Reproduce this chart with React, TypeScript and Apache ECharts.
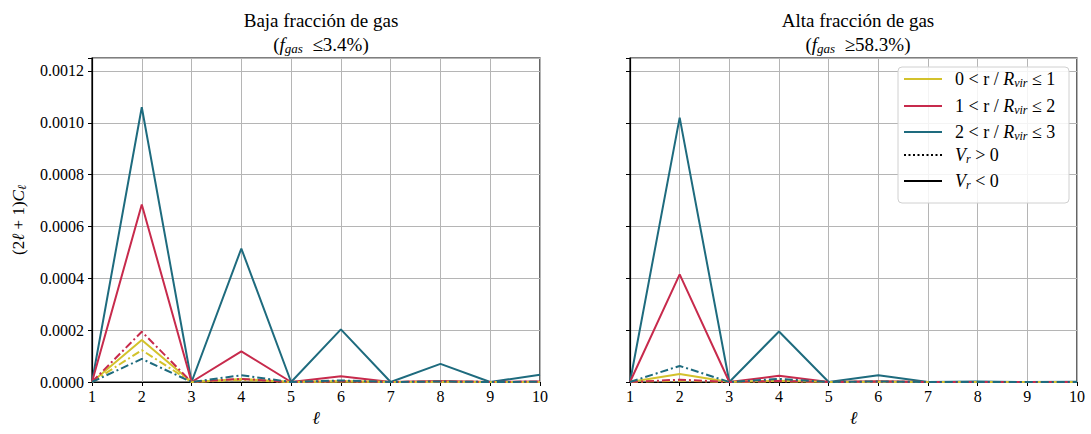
import React, { useEffect, useRef } from "react";
import * as echarts from "echarts";

// multipole order ℓ
const ell = [1, 2, 3, 4, 5, 6, 7, 8, 9, 10];

// Low gas fraction panel: (2ℓ+1)C_ℓ per radial shell; "In" = V_r < 0 (solid), "Out" = V_r > 0 (dash-dot)
const lowIn1 = [0, 0.000162, 0, 0.000012, 0, 0.000003, 0, 0.000001, 0, 0];
const lowIn2 = [0, 0.000685, 0, 0.000118, 0, 0.000022, 0, 0.000004, 0, 0.000002];
const lowIn3 = [0, 0.00106, 0, 0.000515, 0, 0.000203, 0, 0.00007, 0, 0.000028];
const lowOut1 = [0, 0.000123, 0, 0.000008, 0, 0.000002, 0, 0, 0, 0];
const lowOut2 = [0, 0.000194, 0, 0.000012, 0, 0.000003, 0, 0.000002, 0, 0.000001];
const lowOut3 = [0, 0.000089, 0, 0.000026, 0, 0.000006, 0, 0.000002, 0, 0.000001];

// High gas fraction panel
const highIn1 = [0, 0.000031, 0, 0.000005, 0, 0.000001, 0, 0, 0, 0];
const highIn2 = [0, 0.000415, 0, 0.000024, 0, 0.000003, 0, 0, 0, 0];
const highIn3 = [0, 0.00102, 0, 0.000195, 0, 0.000026, 0, 0.000002, 0, 0.000001];
const highOut1 = [0, 0.000005, 0, 0.000003, 0, 0, 0, 0, 0, 0];
const highOut2 = [0, 0.000009, 0, 0.000004, 0, 0.000001, 0, 0, 0, 0];
const highOut3 = [0, 0.000062, 0, 0.000012, 0, 0.000002, 0, 0, 0, 0];

const yTicks = [0, 0.0002, 0.0004, 0.0006, 0.0008, 0.001, 0.0012];
const shellLabels = ["0", "1", "2", "3"];

const YELLOW = "#d3c22c";
const RED = "#c72a4c";
const BLUE = "#1e6b7e";
const FONT = "'Liberation Serif', 'DejaVu Serif', serif";
const DASHDOT = [8, 3, 2, 3];

const pairs = (vals: number[]) => ell.map((l, i) => [l, vals[i]]);

function lineSeries(name: string, vals: number[], color: string, dashed: boolean, idx: number) {
  return {
    type: "line",
    name,
    xAxisIndex: idx,
    yAxisIndex: idx,
    data: pairs(vals),
    showSymbol: false,
    symbol: "none",
    lineStyle: { color, width: 2, type: dashed ? DASHDOT : "solid" },
    z: dashed ? 3 : 2,
  };
}

function richSet(size: number, subSize: number, subPad: number) {
  return {
    n: { fontFamily: FONT, fontSize: size, fontWeight: "normal", color: "#000" },
    i: { fontFamily: FONT, fontSize: size, fontStyle: "italic", fontWeight: "normal", color: "#000" },
    s: {
      fontFamily: FONT,
      fontSize: subSize,
      fontStyle: "italic",
      fontWeight: "normal",
      color: "#000",
      padding: [subPad, 0, 0, 0],
    },
  };
}

export default function App() {
  const ref = useRef<HTMLDivElement>(null);

  useEffect(() => {
    if (!ref.current) return;
    const chart = echarts.init(ref.current, null, { renderer: "svg" });

    const grids = [
      { left: 92, top: 58, width: 448, height: 324 },
      { left: 630, top: 58, width: 447, height: 324 },
    ].map((g) => ({ ...g, show: true, borderColor: "#000", borderWidth: 1.2, backgroundColor: "transparent" }));

    const xAxes = [0, 1].map((i) => ({
      type: "value",
      gridIndex: i,
      min: 1,
      max: 10,
      interval: 1,
      name: "ℓ",
      nameLocation: "middle",
      nameGap: 25,
      nameTextStyle: { fontFamily: FONT, fontSize: 18, fontStyle: "italic", color: "#000" },
      axisLine: { show: true, onZero: false, lineStyle: { color: "#000", width: 1.2 } },
      axisTick: { show: true, inside: false, length: 4, lineStyle: { color: "#000" } },
      axisLabel: { fontFamily: FONT, fontSize: 16, color: "#000", margin: 6 },
      splitLine: { show: true, lineStyle: { color: "#b5b5b5", width: 1 } },
    }));

    const yAxes = [0, 1].map((i) => ({
      type: "value",
      gridIndex: i,
      min: 0,
      max: 0.00125,
      interval: 0.0002,
      name: i === 0 ? "{n|(2}{i|ℓ}{n| + 1)}{i|C}{s|ℓ}" : "",
      nameLocation: "middle",
      nameGap: 64,
      nameRotate: 90,
      nameTextStyle: { rich: richSet(17, 12, 7) },
      axisLine: { show: true, lineStyle: { color: "#000", width: 1.2 } },
      axisTick: {
        show: true,
        inside: false,
        length: 4,
        lineStyle: { color: "#000" },
        interval: (_: number, v: number) => yTicks.some((t) => Math.abs(t - v) < 1e-9),
      },
      axisLabel: {
        show: i === 0,
        fontFamily: FONT,
        fontSize: 16,
        color: "#000",
        margin: 8,
        formatter: (v: number) => (yTicks.some((t) => Math.abs(t - v) < 1e-9) ? v.toFixed(4) : ""),
      },
      splitLine: { show: true, lineStyle: { color: "#b5b5b5", width: 1 } },
    }));

    const series = [
      lineSeries("low-in-3", lowIn3, BLUE, false, 0),
      lineSeries("low-in-2", lowIn2, RED, false, 0),
      lineSeries("low-in-1", lowIn1, YELLOW, false, 0),
      lineSeries("low-out-1", lowOut1, YELLOW, true, 0),
      lineSeries("low-out-2", lowOut2, RED, true, 0),
      lineSeries("low-out-3", lowOut3, BLUE, true, 0),
      lineSeries("high-in-3", highIn3, BLUE, false, 1),
      lineSeries("high-in-2", highIn2, RED, false, 1),
      lineSeries("high-in-1", highIn1, YELLOW, false, 1),
      lineSeries("high-out-1", highOut1, YELLOW, true, 1),
      lineSeries("high-out-2", highOut2, RED, true, 1),
      lineSeries("high-out-3", highOut3, BLUE, true, 1),
    ];

    const legendRich = richSet(18, 12, 7);
    const legendRows = [
      { y: 79, color: YELLOW, dash: false, text: `{n|${shellLabels[0]} < r / }{i|R}{s|vir}{n| ≤ ${shellLabels[1]}}` },
      { y: 106, color: RED, dash: false, text: `{n|${shellLabels[1]} < r / }{i|R}{s|vir}{n| ≤ ${shellLabels[2]}}` },
      { y: 132, color: BLUE, dash: false, text: `{n|${shellLabels[2]} < r / }{i|R}{s|vir}{n| ≤ ${shellLabels[3]}}` },
      { y: 155, color: "#000", dash: true, text: "{i|V}{s|r}{n| > 0}" },
      { y: 181, color: "#000", dash: false, text: "{i|V}{s|r}{n| < 0}" },
    ];

    const legendGraphic: any[] = [
      {
        type: "rect",
        shape: { x: 898, y: 67, width: 171, height: 136, r: 4 },
        style: { fill: "rgba(255,255,255,0.85)", stroke: "#d0d0d0", lineWidth: 1 },
        z: 100,
      },
    ];
    legendRows.forEach((r) => {
      legendGraphic.push({
        type: "line",
        shape: { x1: 904, y1: r.y, x2: 942, y2: r.y },
        style: { stroke: r.color, lineWidth: 2.2, lineDash: r.dash ? [2, 2.5] : null },
        z: 101,
      });
      legendGraphic.push({
        type: "text",
        x: 955,
        y: r.y,
        style: { text: r.text, rich: legendRich, verticalAlign: "middle", align: "left" },
        z: 101,
      });
    });

    const titleRich = richSet(19, 13, 8);

    chart.setOption({
      animation: false,
      title: [
        {
          text: "{n|Baja fracción de gas}\n{n|(}{i|f}{s|gas}{n|  ≤3.4%)}",
          left: 316,
          top: 3,
          textAlign: "center",
          textStyle: { rich: titleRich, lineHeight: 24, fontWeight: "normal" },
        },
        {
          text: "{n|Alta fracción de gas}\n{n|(}{i|f}{s|gas}{n|  ≥58.3%)}",
          left: 853,
          top: 3,
          textAlign: "center",
          textStyle: { rich: titleRich, lineHeight: 24, fontWeight: "normal" },
        },
      ],
      grid: grids,
      xAxis: xAxes,
      yAxis: yAxes,
      series,
      graphic: legendGraphic,
    });

    return () => chart.dispose();
  }, []);

  return (
    <div
      ref={ref}
      style={{ position: "fixed", left: 0, top: 0, width: 1091, height: 434, background: "#fff" }}
    />
  );
}
